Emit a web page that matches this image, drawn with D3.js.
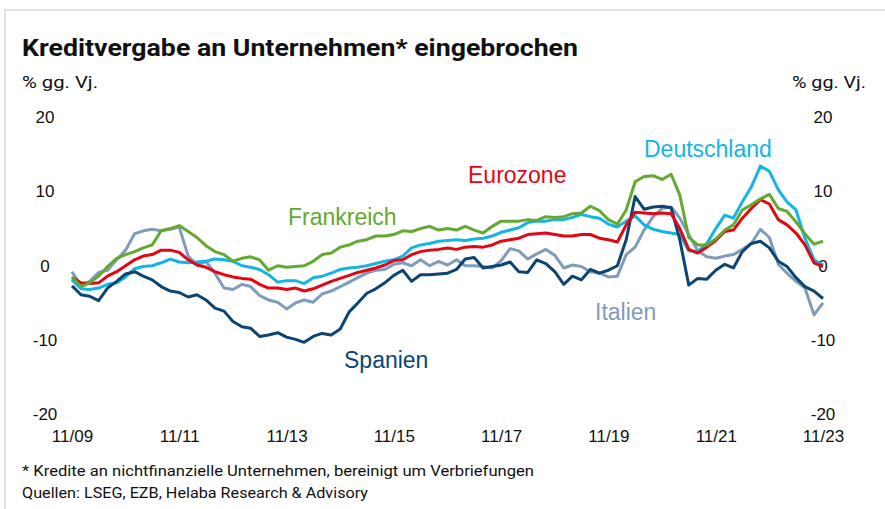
<!DOCTYPE html>
<html>
<head>
<meta charset="utf-8">
<script src="https://cdn.jsdelivr.net/npm/d3@7"></script>
<style>
  body { margin: 0; background: #fff; }
  svg { display: block; }
</style>
</head>
<body>
<script>
const width = 885
const height = 509

// Monatsdaten im 2-Monats-Raster, 11/09 bis 11/23
const startDate = new Date(2009, 10, 1)
const endDate = new Date(2023, 10, 1)
const xTickLabels = ['11/09', '11/11', '11/13', '11/15', '11/17', '11/19', '11/21', '11/23']
const yTicks = [-20, -10, 0, 10, 20]

const frankreich = [
  -1.5, -2.8, -2.3, -1.4, -0.1, 1.0, 1.5, 1.9, 2.4, 2.8, 4.7, 5.0, 5.4,
  4.6, 3.8, 2.7, 1.9, 1.5, 0.6, 1.0, 1.2, 0.8, -0.6, 0.0, -0.2,
  -0.1, 0.0, 0.6, 1.5, 1.7, 2.5, 2.8, 3.3, 3.5, 4.0, 4.0, 4.2,
  4.7, 4.6, 5.0, 5.3, 4.8, 5.0, 4.8, 5.3, 4.8, 4.4, 5.3, 6.0,
  6.0, 6.0, 6.2, 6.1, 6.6, 6.5, 6.6, 7.0, 7.1, 8.0, 7.4, 6.2,
  5.6, 7.5, 11.3, 12.0, 12.1, 11.6, 12.3, 9.5, 3.8, 2.8, 2.8, 3.6,
  4.8, 5.5, 7.5, 8.2, 9.0, 9.6, 7.7, 7.3, 5.9, 4.3, 2.9, 3.3
]
const eurozone = [
  -1.6, -2.3, -2.4, -2.3, -1.4, -0.8, 0.0, 0.8, 1.3, 1.5, 2.1, 2.1, 1.8,
  0.8, 0.1, -0.2, -0.8, -1.2, -1.5, -1.7, -1.8, -2.5, -3.0, -3.0, -3.2,
  -3.0, -3.4, -3.1, -2.6, -2.1, -1.7, -1.3, -0.9, -0.6, -0.3, 0.1, 0.7,
  0.8, 1.5, 1.9, 2.1, 2.2, 2.4, 2.2, 2.5, 2.6, 2.5, 2.8, 3.3,
  3.5, 3.7, 4.2, 4.3, 4.4, 4.2, 4.0, 4.0, 4.2, 4.2, 3.7, 3.5,
  3.2, 5.5, 7.2, 7.1, 7.0, 7.1, 7.0, 5.0, 2.2, 1.7, 2.5, 3.4,
  4.6, 4.8, 6.4, 7.7, 8.9, 8.3, 6.2, 5.5, 4.4, 2.8, 0.4, -0.1
]
const deutschland = [
  -1.9, -3.1, -3.2, -3.0, -2.5, -2.3, -1.5, -0.4, -0.1, 0.0, 0.4, 0.9, 0.5,
  0.4, 0.5, 0.6, 0.9, 0.8, 0.6, 0.0, -0.2, -0.5, -1.2, -2.2, -2.0,
  -2.0, -2.4, -1.6, -1.4, -1.0, -0.5, -0.3, -0.2, 0.0, 0.3, 0.6, 0.8,
  1.3, 2.4, 2.8, 3.0, 3.3, 3.4, 3.5, 3.4, 3.6, 3.7, 4.0, 4.5,
  4.8, 5.1, 5.8, 6.0, 6.0, 6.2, 6.2, 6.5, 6.9, 6.6, 6.4, 5.6,
  5.2, 6.0, 6.7, 5.5, 4.9, 4.6, 4.4, 4.2, 2.0, 1.9, 3.0, 5.0,
  6.8, 6.4, 8.6, 10.6, 13.4, 12.7, 10.2, 8.6, 7.5, 3.7, 0.8, 0.1
]
const italien = [
  -0.8, -2.7, -2.1, -0.9, -0.6, 0.8, 2.1, 4.3, 4.7, 4.9, 4.7, 4.9, 5.2,
  1.3, 0.1, 0.6, -1.0, -3.0, -3.2, -2.5, -2.8, -4.0, -4.6, -4.9, -5.8,
  -5.0, -4.6, -4.9, -3.8, -3.4, -2.8, -2.2, -1.6, -1.0, -0.6, -0.5, 0.2,
  0.4, 0.0, 0.8, 0.0, 0.6, 0.1, 0.8, 0.0, 0.0, -0.1, -0.3, 0.7,
  2.3, 2.0, 0.9, 1.6, 2.2, 1.4, -0.3, 0.1, -0.1, -0.8, -1.0, -1.5,
  -1.4, 1.5, 2.5, 4.8, 6.6, 7.7, 7.9, 6.4, 4.2, 2.0, 1.2, 1.0,
  1.3, 1.5, 2.2, 3.0, 4.9, 3.8, 0.2, -1.0, -2.1, -3.0, -6.6, -5.0
]
const spanien = [
  -2.7, -3.9, -4.1, -4.7, -3.0, -2.1, -1.1, -0.8, -1.4, -1.9, -2.8, -3.4, -3.6,
  -4.2, -3.9, -4.6, -5.7, -6.1, -7.5, -8.2, -8.4, -9.5, -9.3, -9.0, -9.6,
  -9.9, -10.3, -9.5, -9.1, -9.3, -8.5, -6.2, -5.0, -3.7, -3.1, -2.3, -1.3,
  -0.6, -2.1, -1.2, -1.2, -1.1, -1.0, -0.5, 0.9, 1.1, -0.3, -0.1, 0.1,
  0.5, -0.8, -0.9, 0.8, 0.3, -0.8, -2.5, -1.4, -1.9, -0.5, -1.0, -0.6,
  0.0, 3.5, 9.3, 7.6, 7.9, 8.0, 7.8, 3.5, -2.6, -1.7, -1.8, -0.6,
  0.2, -0.3, 1.9, 3.0, 3.3, 2.4, 0.6, -0.1, -1.6, -2.8, -3.4, -4.4
]

const dates = frankreich.map((d, i) => d3.timeMonth.offset(startDate, 2 * i))

const series = [
  { name: 'Italien', values: italien, color: '#7f9cbb', lx: 595, ly: 320 },
  { name: 'Deutschland', values: deutschland, color: '#13b5e6', lx: 644, ly: 157 },
  { name: 'Spanien', values: spanien, color: '#0c4573', lx: 344, ly: 368 },
  { name: 'Eurozone', values: eurozone, color: '#e30613', lx: 468, ly: 183 },
  { name: 'Frankreich', values: frankreich, color: '#63a92f', lx: 288, ly: 225 }
]

const svg = d3.select('body').append('svg')
  .attr('width', width)
  .attr('height', height)
  .style('font-family', 'Liberation Sans, Arial, sans-serif')

// heller Rahmen oben/links
svg.append('rect')
  .attr('x', 5).attr('y', 10)
  .attr('width', 920).attr('height', 540)
  .attr('fill', 'none')
  .attr('stroke', '#e3e3e3')
  .attr('stroke-width', 2)

svg.append('text')
  .attr('x', 22).attr('y', 56)
  .attr('font-family', 'Roboto, Open Sans, sans-serif')
  .attr('font-weight', 'bold')
  .attr('font-size', 23)
  .attr('textLength', 556)
  .attr('lengthAdjust', 'spacingAndGlyphs')
  .attr('fill', '#111')
  .text('Kreditvergabe an Unternehmen* eingebrochen')

const unitLabel = '% gg. Vj.'
svg.append('text')
  .attr('x', 22).attr('y', 88)
  .attr('font-family', 'Roboto, sans-serif')
  .attr('font-size', 17)
  .attr('textLength', 76)
  .attr('lengthAdjust', 'spacingAndGlyphs')
  .attr('fill', '#111')
  .text(unitLabel)
svg.append('text')
  .attr('x', 792).attr('y', 88)
  .attr('font-family', 'Roboto, sans-serif')
  .attr('font-size', 17)
  .attr('textLength', 74)
  .attr('lengthAdjust', 'spacingAndGlyphs')
  .attr('fill', '#111')
  .text(unitLabel)

const x = d3.scaleTime()
  .domain([startDate, endDate])
  .range([72, 823])
const y = d3.scaleLinear()
  .domain([-20, 20])
  .range([414.5, 117])

const axisFont = 'Liberation Sans Narrow, Arial Narrow, Liberation Sans, sans-serif'

const styleAxis = g => {
  g.select('.domain').remove()
  g.selectAll('text')
    .attr('font-family', axisFont)
    .attr('font-size', 17)
    .attr('fill', '#111')
}

svg.append('g')
  .attr('transform', 'translate(45,0)')
  .call(d3.axisLeft(y).tickValues(yTicks).tickSize(0).tickPadding(0)
    .tickFormat(d => String(d)))
  .call(styleAxis)
  .selectAll('text').attr('text-anchor', 'middle')

svg.append('g')
  .attr('transform', 'translate(823,0)')
  .call(d3.axisRight(y).tickValues(yTicks).tickSize(0).tickPadding(0)
    .tickFormat(d => String(d)))
  .call(styleAxis)
  .selectAll('text').attr('text-anchor', 'middle')

const xTicks = xTickLabels.map((d, i) => d3.timeMonth.offset(startDate, 24 * i))
svg.append('g')
  .attr('transform', 'translate(0,430)')
  .call(d3.axisBottom(x).tickValues(xTicks).tickSize(0).tickPadding(0)
    .tickFormat((d, i) => xTickLabels[i]))
  .call(styleAxis)

const line = d3.line()
  .x((d, i) => x(dates[i]))
  .y(d => y(d))

svg.append('g').selectAll('path')
  .data(series)
  .join('path')
  .attr('d', d => line(d.values))
  .attr('fill', 'none')
  .attr('stroke', d => d.color)
  .attr('stroke-width', 3)
  .attr('stroke-linejoin', 'round')

svg.append('g').selectAll('text')
  .data(series)
  .join('text')
  .attr('x', d => d.lx)
  .attr('y', d => d.ly)
  .attr('font-size', 23)
  .attr('fill', d => d.color)
  .text(d => d.name)

const notes = [
  '* Kredite an nichtfinanzielle Unternehmen, bereinigt um Verbriefungen',
  'Quellen: LSEG, EZB, Helaba Research & Advisory'
]
const noteWidths = [512, 346]
svg.append('g').selectAll('text')
  .data(notes)
  .join('text')
  .attr('x', 22)
  .attr('y', (d, i) => 476 + i * 22)
  .attr('font-family', 'Roboto, sans-serif')
  .attr('font-size', 14.5)
  .attr('textLength', (d, i) => noteWidths[i])
  .attr('lengthAdjust', 'spacingAndGlyphs')
  .attr('fill', '#111')
  .text(d => d)
</script>
</body>
</html>
